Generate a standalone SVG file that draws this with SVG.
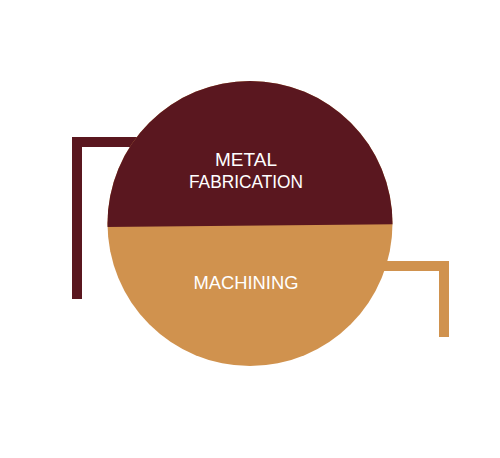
<svg xmlns="http://www.w3.org/2000/svg" width="500" height="458" viewBox="0 0 500 458">
<style>
.maroon{fill:#5a171f}
.tan{fill:#d0924e}
.lbl{font-family:"Liberation Sans",Arial,sans-serif;font-size:19px;fill:#ffffff;text-anchor:middle}
</style>
<defs>
<clipPath id="topHalf"><polygon points="0,0 500,0 500,223.2 0,228"/></clipPath>
</defs>
<rect width="500" height="458" fill="#ffffff"/>
<g id="connectors">
<path class="maroon" d="M72,137 H160 V147 H82 V299 H72 Z"/>
<path class="tan" d="M360,261 H449 V337 H439 V271 H360 Z"/>
</g>
<g id="machining">
<circle class="tan" cx="250" cy="223.5" r="142.5"/>
<text class="lbl" x="246" y="289" textLength="105" lengthAdjust="spacingAndGlyphs">MACHINING</text>
</g>
<g id="metal-fabrication">
<circle class="maroon" cx="250" cy="223.5" r="142.5" clip-path="url(#topHalf)"/>
<text class="lbl" x="246" y="166">METAL</text>
<text class="lbl" x="246" y="188" textLength="114" lengthAdjust="spacingAndGlyphs">FABRICATION</text>
</g>
</svg>
